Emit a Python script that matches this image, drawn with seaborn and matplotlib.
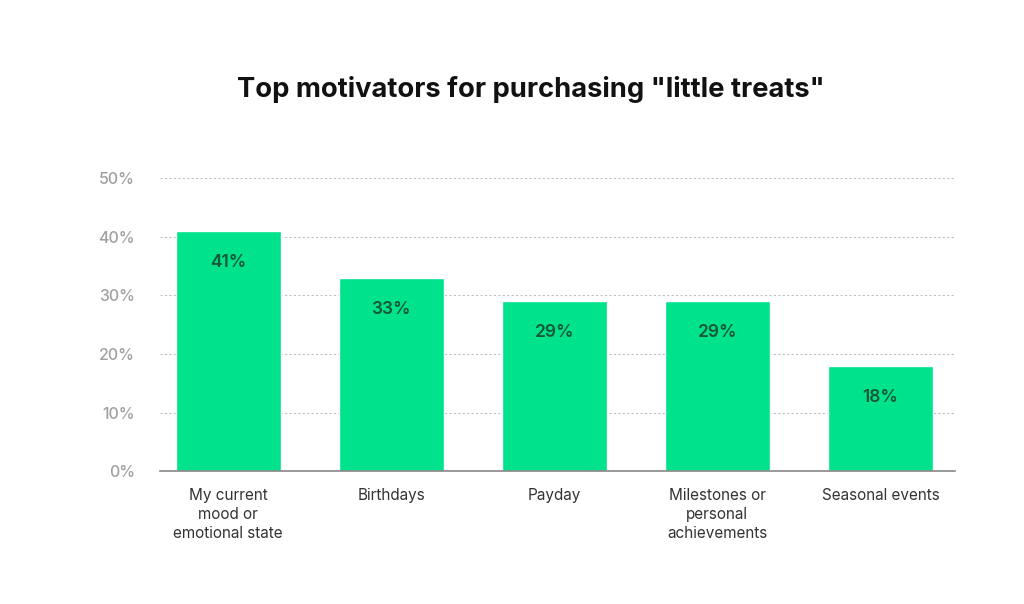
import matplotlib
matplotlib.use("Agg")
import matplotlib.pyplot as plt
import seaborn as sns
import pandas as pd

categories = ["My current\nmood or\nemotional state", "Birthdays", "Payday",
              "Milestones or\npersonal\nachievements", "Seasonal events"]
values = [41, 33, 29, 29, 18]
yticks = [0, 10, 20, 30, 40, 50]

df = pd.DataFrame({"cat": categories, "val": values})

sns.set_style("white")
plt.rcParams["font.family"] = ["Inter", "DejaVu Sans"]

fig = plt.figure(figsize=(10.24, 6.04), dpi=100)
ax = fig.add_axes([0.156, 0.22, 0.777, 0.485])

sns.barplot(data=df, x="cat", y="val", color="#00E38C", saturation=1,
            width=0.645, ax=ax, zorder=3)

# value labels sit just inside the top of each bar
for i, v in enumerate(values):
    ax.text(i, v - 5.4, f"{v}%", ha="center", va="center", fontsize=12.5,
            color="#17573a", fontweight="semibold", zorder=4)

ax.set_ylim(0, 50)
ax.set_xlim(-0.42, 4.46)
ax.set_yticks(yticks)
ax.set_yticklabels([f"{t}%" for t in yticks], color="#a0a0a0", fontsize=11.5,
                   fontweight="medium")
ax.set_xticks(range(len(categories)))
ax.set_xticklabels(categories, fontsize=11, color="#333333", linespacing=1.35)
ax.tick_params(axis="both", length=0)
ax.tick_params(axis="x", pad=12)
ax.tick_params(axis="y", pad=18)
ax.grid(axis="y", linestyle=(0, (2, 2)), color="#c0c0c0", linewidth=0.8, zorder=0)
ax.set_axisbelow(True)
ax.set_xlabel("")
ax.set_ylabel("")
for s in ["top", "right", "left"]:
    ax.spines[s].set_visible(False)
ax.spines["bottom"].set_color("#888888")
ax.spines["bottom"].set_linewidth(1.2)
ax.spines["bottom"].set_zorder(5)

fig.text(0.518, 0.852, 'Top motivators for purchasing "little treats"', ha="center",
         va="center", fontsize=19.7, fontweight="bold", color="#111111")

fig.savefig("out.png", dpi=100, facecolor="white")
